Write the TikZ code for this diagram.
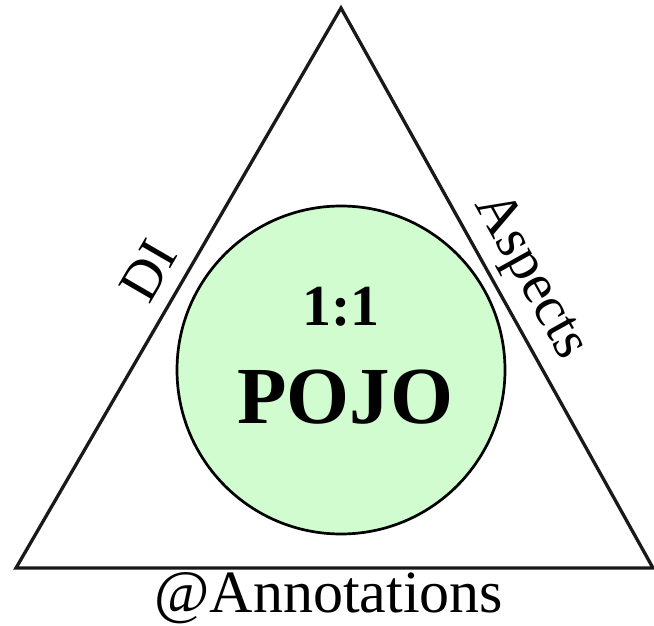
\documentclass[tikz,border=0pt]{standalone}
\usepackage{fontspec}
\setmainfont{Liberation Serif}
\usetikzlibrary{positioning, calc}
\definecolor{pojofill}{RGB}{208,252,208}

\begin{document}
\begin{tikzpicture}[x=1pt, y=-1pt,
    side/.style={line width=3.3pt, black!90, line join=miter},
    lbl/.style={font=\fontsize{#1}{#1}\selectfont, inner sep=0pt},
    big/.style={font=\fontsize{#1}{#1}\selectfont\bfseries, inner sep=0pt}]
  \useasboundingbox (0,0) rectangle (654,626);
  \coordinate (top) at (341,8);
  \coordinate (bl) at (16,568);
  \coordinate (br) at (653,568);
  \draw[side] (bl) -- (top) -- (br) -- cycle;
  \node[circle, draw, line width=2.7pt, fill=pojofill, minimum size=328pt,
    inner sep=0pt] (pojo) at (341,370) {};
  \node[big=58, anchor=base] (ratio) at (341,325) {1:1};
  \node[big=81, anchor=base] (name) at (345,423) {POJO};
  % labels along the sides
  \path (bl) -- node[lbl=56, sloped, above=16pt, pos=0.5] (di) {DI} (top);
  \path (top) -- node[lbl=57, sloped, above=9pt, pos=0.51] (asp) {Aspects} (br);
  \node[lbl=60, anchor=base] (ann) at (329,612) {@Annotations};
\end{tikzpicture}
\end{document}
